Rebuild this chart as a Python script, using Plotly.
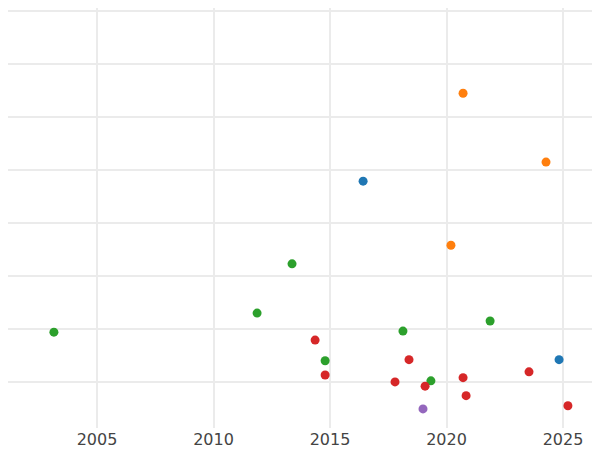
import plotly.graph_objects as go

blue_x = [2016.42, 2024.83]
blue_y = [3.79, 0.42]
orange_x = [2020.71, 2024.27, 2020.19]
orange_y = [5.45, 4.15, 2.58]
green_x = [2003.15, 2011.87, 2013.37, 2014.79, 2018.13, 2019.33, 2021.87]
green_y = [0.94, 1.30, 2.23, 0.40, 0.96, 0.02, 1.15]
red_x = [2014.36, 2014.79, 2017.79, 2018.39, 2019.08, 2020.71, 2020.84, 2023.54, 2025.21]
red_y = [0.79, 0.13, 0.0, 0.42, -0.08, 0.08, -0.26, 0.19, -0.45]
purple_x = [2018.99]
purple_y = [-0.51]

series = [(blue_x, blue_y, "#1f77b4"), (orange_x, orange_y, "#ff7f0e"),
          (green_x, green_y, "#2ca02c"), (red_x, red_y, "#d62728"),
          (purple_x, purple_y, "#9467bd")]

fig = go.Figure()
for xs, ys, c in series:
    fig.add_trace(go.Scatter(x=xs, y=ys, mode="markers", marker=dict(color=c, size=9)))

fig.update_layout(
    width=600, height=450, template="plotly_white", showlegend=False,
    margin=dict(l=0, r=0, t=0, b=30, pad=0),
    font=dict(family="DejaVu Sans", size=16, color="#444"),
    xaxis=dict(range=[2001.18, 2026.93], dtick=5, tick0=2005, gridcolor="#ebebeb", gridwidth=2,
               zeroline=False, automargin=False),
    yaxis=dict(range=[-0.87, 7.06], dtick=1, showticklabels=False, gridcolor="#ebebeb",
               gridwidth=2, zeroline=False, automargin=False),
)
fig.write_html("out.html")
